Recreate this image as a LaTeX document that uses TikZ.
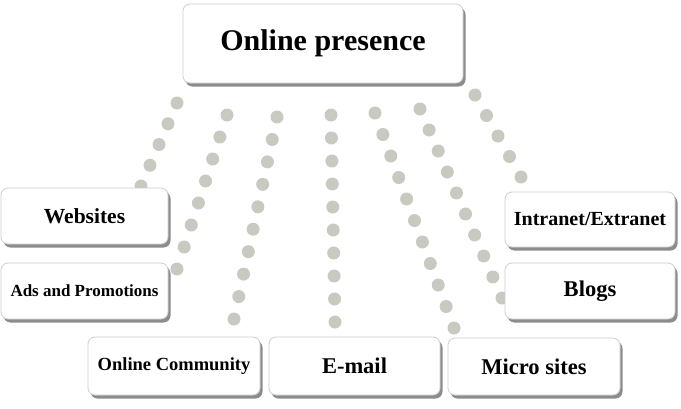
\documentclass[tikz,border=0pt]{standalone}
\usepackage{fontspec}
\setmainfont{Liberation Serif}
\usetikzlibrary{calc,shadows}
\definecolor{dotgray}{RGB}{201,201,193}
\definecolor{edgegray}{RGB}{205,205,205}
\begin{document}
\begin{tikzpicture}[x=1pt,y=-1pt,
    box/.style={draw=edgegray, fill=white, line width=0.8pt, rounded corners=7pt,
      drop shadow={shadow xshift=2.5pt, shadow yshift=-3.5pt, fill=black!45, opacity=1},
      inner sep=0pt, align=center},
    txt/.style={font=\bfseries\fontsize{#1}{#1}\selectfont},
    dot/.style={fill=dotgray}]
    \useasboundingbox (0,0) rectangle (681,408);
    % Ends of the dotted chains
    \coordinate (a1) at (177,103); \coordinate (b1) at (141,186);
    \coordinate (a2) at (227,115); \coordinate (b2) at (177,269);
    \coordinate (a3) at (277,117); \coordinate (b3) at (234,319);
    \coordinate (a4) at (331,115); \coordinate (b4) at (335,322);
    \coordinate (a5) at (375,113); \coordinate (b5) at (454,328);
    \coordinate (a6) at (420,109); \coordinate (b6) at (502,298);
    \coordinate (a7) at (475,95);  \coordinate (b7) at (521,177);
    % Dotted chains
    \foreach \s/\e/\n in {a1/b1/5, a2/b2/8, a3/b3/10, a4/b4/10, a5/b5/11, a6/b6/10, a7/b7/5} {
        \pgfmathtruncatemacro{\last}{\n-1}
        \foreach \i in {0,...,\last}
            \fill[dot] ($(\s)!\i/\last!(\e)$) circle (6.5pt);
    }
    % Top box
    \node[box, txt=30, minimum width=280pt, minimum height=79pt] (top) at (323,43.5) {Online presence};
    % Left boxes
    \node[box, txt=21.5, minimum width=167pt, minimum height=56pt] (web) at (84.5,216) {Websites};
    \node[box, txt=17, minimum width=167pt, minimum height=56pt] (ads) at (84.5,291) {Ads and Promotions};
    % Bottom boxes
    \node[box, txt=18.5, minimum width=172pt, minimum height=58pt] (comm) at (174,366) {Online Community};
    \node[box, txt=22.5, minimum width=171pt, minimum height=58pt] (mail) at (354.5,366) {E-mail};
    \node[box, txt=22.5, minimum width=172pt, minimum height=57pt] (micro) at (534,366.5) {Micro sites};
    % Right boxes
    \node[box, txt=20, minimum width=170pt, minimum height=55pt] (intra) at (590,219.5) {Intranet/Extranet};
    \node[box, txt=22.5, minimum width=170pt, minimum height=56pt] (blogs) at (590,291) {Blogs};
\end{tikzpicture}
\end{document}
